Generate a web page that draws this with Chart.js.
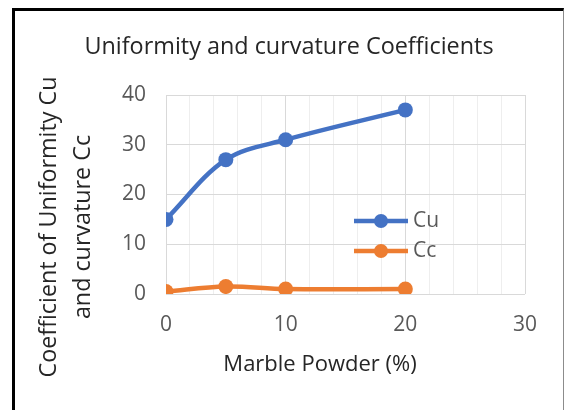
<!DOCTYPE html>
<html>
<head>
<meta charset="utf-8">
<script src="https://cdn.jsdelivr.net/npm/chart.js@4/dist/chart.umd.min.js"></script>
<style>
  html, body { margin: 0; padding: 0; background: #fff; }
  #wrap { position: relative; width: 566px; height: 410px; overflow: hidden; }
  #frame {
    position: absolute; left: 12px; top: 8px; width: 548px; height: 420px;
    border-left: 3px solid #000; border-top: 3px solid #000; border-right: 1px solid #8c8c8c;
  }
  canvas { position: absolute; left: 0; top: 0; }
</style>
</head>
<body>
<div id="wrap">
  <div id="frame"></div>
  <canvas id="chart" width="566" height="410"></canvas>
</div>
<script>
// Marble powder content (%) and the resulting soil gradation coefficients
const marblePowder = [0, 5, 10, 20];
const cuValues = [15, 27, 31, 37];
const ccValues = [0.5, 1.5, 1.0, 1.0];
const seriesNames = ['Cu', 'Cc'];
const seriesColors = ['#4472C4', '#ED7D31'];

const chartTitle = 'Uniformity and curvature Coefficients';
const xTitle = 'Marble Powder (%)';
const yTitle = ['Coefficient of Uniformity Cu', 'and curvature Cc'];

const FONT = "'Open Sans', sans-serif";

const toPoints = (ys) => marblePowder.map((x, i) => ({ x, y: ys[i] }));

// Title, axis titles and legend drawn at fixed spots on the canvas
const annotations = {
  id: 'annotations',
  afterDraw(chart) {
    const ctx = chart.ctx;
    ctx.save();
    ctx.textAlign = 'center';
    ctx.textBaseline = 'middle';
    ctx.fillStyle = '#262626';

    ctx.font = `23.4px ${FONT}`;
    ctx.fillText(chartTitle, 289, 47);

    ctx.font = `22px ${FONT}`;
    ctx.fillText(xTitle, 320, 365);

    ctx.save();
    ctx.font = `23.3px ${FONT}`;
    ctx.translate(0, 227);
    ctx.rotate(-Math.PI / 2);
    ctx.fillText(yTitle[0], 0, 49);
    ctx.fillText(yTitle[1], 0, 83);
    ctx.restore();

    // legend: line sample with marker, then series name
    const rows = [221, 251];
    chart.data.datasets.forEach((ds, i) => {
      const y = rows[i];
      ctx.strokeStyle = ds.borderColor;
      ctx.lineWidth = 4.5;
      ctx.lineCap = 'butt';
      ctx.beginPath();
      ctx.moveTo(354, y);
      ctx.lineTo(408, y);
      ctx.stroke();
      ctx.fillStyle = ds.backgroundColor;
      ctx.beginPath();
      ctx.arc(381, y, 7, 0, Math.PI * 2);
      ctx.fill();
      ctx.fillStyle = '#595959';
      ctx.textAlign = 'left';
      ctx.font = `21px ${FONT}`;
      ctx.fillText(ds.label, 413, y);
    });
    ctx.restore();
  }
};

new Chart(document.getElementById('chart'), {
  type: 'line',
  data: {
    datasets: [
      {
        label: seriesNames[0],
        data: toPoints(cuValues),
        borderColor: seriesColors[0],
        backgroundColor: seriesColors[0],
        borderWidth: 4.5,
        pointRadius: 7.5,
        pointHoverRadius: 7.5,
        pointBorderWidth: 0,
        tension: 0.35
      },
      {
        label: seriesNames[1],
        data: toPoints(ccValues),
        borderColor: seriesColors[1],
        backgroundColor: seriesColors[1],
        borderWidth: 4.5,
        pointRadius: 7.5,
        pointHoverRadius: 7.5,
        pointBorderWidth: 0,
        tension: 0.35
      }
    ]
  },
  options: {
    responsive: false,
    animation: false,
    events: [],
    layout: { padding: { left: 0, right: 41, top: 95, bottom: 0 } },
    plugins: {
      legend: { display: false },
      title: { display: false },
      tooltip: { enabled: false }
    },
    scales: {
      x: {
        type: 'linear',
        min: 0,
        max: 30,
        afterFit: (s) => { s.height = 116; },
        border: { display: false },
        grid: {
          drawTicks: false,
          lineWidth: 1,
          color: (c) => (c.tick && c.tick.value % 10 === 0) ? '#d9d9d9' : '#eeeeee'
        },
        ticks: {
          stepSize: 2,
          autoSkip: false,
          maxRotation: 0,
          padding: 18,
          color: '#595959',
          font: { family: FONT, size: 21 },
          callback: (v) => (v % 10 === 0 ? String(v) : '')
        }
      },
      y: {
        min: 0,
        max: 40,
        afterFit: (s) => { s.width = 166; },
        border: { display: false },
        grid: { drawTicks: false, color: '#d9d9d9', lineWidth: 1 },
        ticks: {
          stepSize: 10,
          padding: 20,
          color: '#595959',
          font: { family: FONT, size: 21 }
        }
      }
    }
  },
  plugins: [annotations]
});
</script>
</body>
</html>
